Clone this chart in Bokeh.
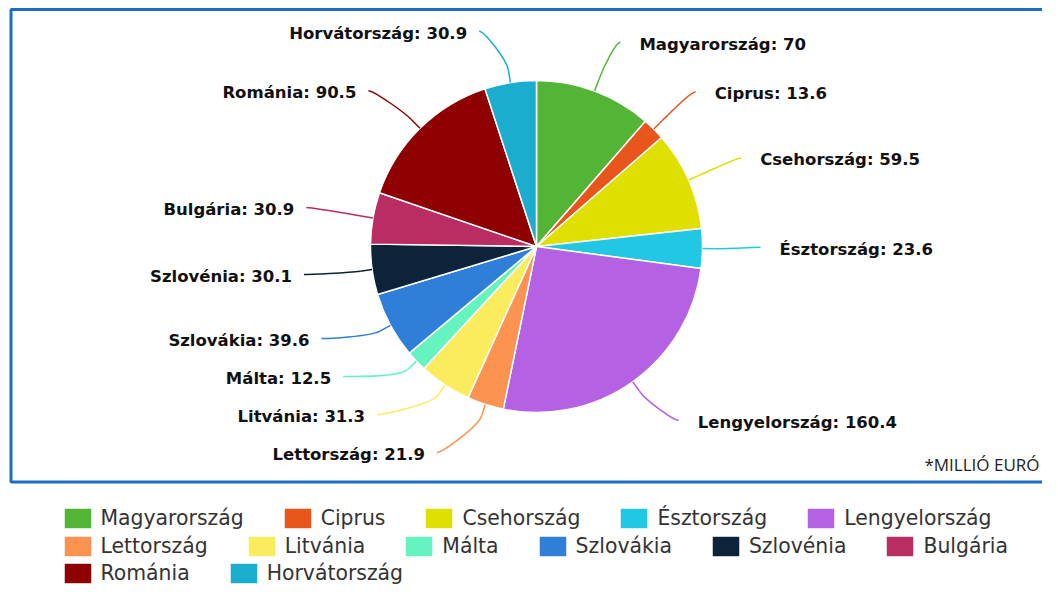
import math
import numpy as np
from bokeh.plotting import figure
from bokeh.models import Range1d, Legend, LegendItem, ColumnDataSource
from bokeh.core.properties import value
from bokeh.embed import file_html
from bokeh.resources import INLINE

# ---------------- data ----------------
countries = ["Magyarország", "Ciprus", "Csehország", "Észtország", "Lengyelország",
             "Lettország", "Litvánia", "Málta", "Szlovákia", "Szlovénia",
             "Bulgária", "Románia", "Horvátország"]
amounts = [70, 13.6, 59.5, 23.6, 160.4, 21.9, 31.3, 12.5, 39.6, 30.1, 30.9, 90.5, 30.9]
colors = ["#52b535", "#e8561e", "#dfe000", "#22c8e3", "#b462e3",
          "#fd9350", "#fbec5d", "#65f4c0", "#2f7ed8", "#0d233a",
          "#b92d63", "#8f0000", "#1aadce"]
legend_rows = [[0, 1, 2, 3, 4], [5, 6, 7, 8, 9, 10], [11, 12]]
unit_note = "*MILLIÓ EURÓ"

# ---------------- layout ----------------
W, H = 1042, 586
def X(xi):
    return xi
def Y(yi):
    return H - yi

cx, cy, r = 536.0, 246.0, 166.0      # pie centre/radius (picture px)
Ry, Rx = 216.0, 222.0                # label ring
gap_min = 38.0
y_bottom = 454.0

p = figure(width=W, height=H, x_range=Range1d(0, W), y_range=Range1d(0, H),
           output_backend="svg", toolbar_location=None, min_border=0,
           x_axis_location=None, y_axis_location=None)
p.grid.visible = False
p.outline_line_color = None
p.background_fill_color = "white"
p.border_fill_color = "white"

# blue frame
p.quad(left=[X(10.5)], right=[X(1120)], top=[Y(9)], bottom=[Y(481.5)],
       fill_color=None, line_color="#1b6ec2", line_width=3)

# pie
n = len(amounts)
total = float(sum(amounts))
cum = np.concatenate([[0.0], np.cumsum(amounts)])
th0 = cum[:-1] / total * 2 * math.pi
th1 = cum[1:] / total * 2 * math.pi
src = ColumnDataSource(dict(
    x=[X(cx)] * n, y=[Y(cy)] * n,
    start=list(math.pi / 2 - th0), end=list(math.pi / 2 - th1),
    color=colors, name=countries))
wr = p.wedge(x="x", y="y", radius=r, start_angle="start", end_angle="end",
             direction="clock", fill_color="color", line_color="white",
             line_width=1.5, source=src)

# label positions
mids = (th0 + th1) / 2
side = [1 if math.sin(t) >= 0 else -1 for t in mids]
ylab = [cy - Ry * math.cos(t) for t in mids]
for s in (1, -1):
    idx = sorted([i for i in range(n) if side[i] == s], key=lambda i: ylab[i])
    for k in range(1, len(idx)):
        ylab[idx[k]] = max(ylab[idx[k]], ylab[idx[k - 1]] + gap_min)
    if ylab[idx[-1]] > y_bottom:
        ylab[idx[-1]] = y_bottom
        for k in range(len(idx) - 2, -1, -1):
            ylab[idx[k]] = min(ylab[idx[k]], ylab[idx[k + 1]] - gap_min)

bx0, by0, bx1, by1, bcx0, bcy0, bcx1, bcy1 = ([] for _ in range(8))
sx0, sy0, sx1, sy1 = [], [], [], []
tl_x, tl_y, tl_t, tr_x, tr_y, tr_t = [], [], [], [], [], []
for i in range(n):
    t, s, yl = mids[i], side[i], ylab[i]
    dy = yl - 4 - cy
    dx = math.sqrt(max(Rx * Rx - dy * dy, 0.0))
    endx = cx + s * (dx + (2 if s > 0 else 12))
    px, py = cx + r * math.sin(t), cy - r * math.cos(t)
    bx, by = cx + (r + 12) * math.sin(t), cy - (r + 12) * math.cos(t)
    ey = yl - 2
    bx0.append(X(endx)); by0.append(Y(ey))
    bcx0.append(X(endx - s * 5)); bcy0.append(Y(ey))
    bcx1.append(X(2 * bx - px)); bcy1.append(Y(2 * by - py))
    bx1.append(X(bx)); by1.append(Y(by))
    sx0.append(X(bx)); sy0.append(Y(by)); sx1.append(X(px)); sy1.append(Y(py))
    label = f"{countries[i]}: {amounts[i]:g}"
    if s > 0:
        tl_x.append(X(endx + 19)); tl_y.append(Y(yl)); tl_t.append(label)
    else:
        tr_x.append(X(endx - 12)); tr_y.append(Y(yl)); tr_t.append(label)

p.bezier(x0=bx0, y0=by0, x1=bx1, y1=by1, cx0=bcx0, cy0=bcy0, cx1=bcx1, cy1=bcy1,
         line_color=colors, line_width=1.5)
p.segment(x0=sx0, y0=sy0, x1=sx1, y1=sy1, line_color=colors, line_width=1.5)

lab_style = dict(text_font=value("DejaVu Sans"), text_font_style="bold",
                 text_font_size="16.5px", text_color="#111111", text_baseline="middle")
p.text(x=tl_x, y=tl_y, text=tl_t, text_align="left", **lab_style)
p.text(x=tr_x, y=tr_y, text=tr_t, text_align="right", **lab_style)

p.text(x=[X(1039)], y=[Y(464)], text=[unit_note], text_align="right",
       text_baseline="middle", text_font=value("Open Sans"),
       text_font_size="17px", text_color="#222222")

# legend (three flowing rows)
row_centers = [518.0, 546.0, 573.0]
for rowi, yc in zip(legend_rows, row_centers):
    items = [LegendItem(label=countries[i], renderers=[wr], index=i) for i in rowi]
    leg = Legend(items=items, orientation="horizontal",
                 location=(X(59.5), Y(yc + 13)),
                 glyph_width=35, glyph_height=26, label_standoff=6, spacing=36,
                 padding=0, margin=0, border_line_color=None,
                 background_fill_alpha=0,
                 label_text_font="DejaVu Sans", label_text_font_size="20.4px",
                 label_text_color="#333333", label_height=26)
    p.add_layout(leg)

open("out.html", "w").write(file_html(p, INLINE))
